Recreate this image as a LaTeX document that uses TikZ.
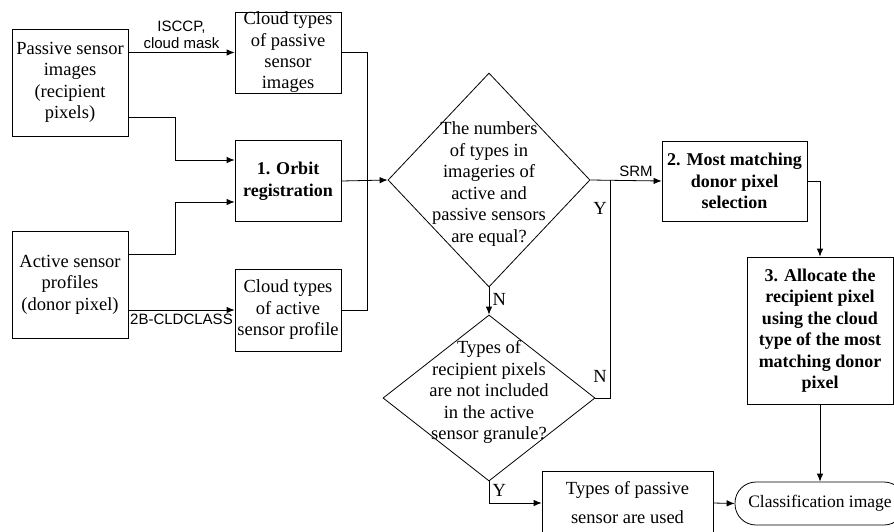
\documentclass[tikz,border=0pt]{standalone}
\usepackage{fontspec}
\setmainfont{Liberation Serif}
\newfontfamily\lblfont{Liberation Sans}
\usetikzlibrary{arrows.meta,calc,shapes.geometric}

\begin{document}
\begin{tikzpicture}[x=1pt,y=-1pt,>={Latex[length=8pt,width=6.5pt]},line width=0.8pt,
  font=\fontsize{18.5}{21.5}\selectfont,
  box/.style={draw,align=center,inner sep=0pt},
  boldbox/.style={box,font=\bfseries\fontsize{18}{21.5}\selectfont},
  decision/.style={draw,diamond,inner sep=0pt},
  flow/.style={->},
  lbl/.style={font=\lblfont\fontsize{15}{17}\selectfont,align=center}]
\useasboundingbox (0,0) rectangle (894,531);

% inputs
\node[box,minimum width=116pt,minimum height=107pt] (passive) at (70,82.5) {Passive sensor\\images\\(recipient\\pixels)};
\node[box,minimum width=116pt,minimum height=107pt] (active) at (70,284.5) {Active sensor\\profiles\\(donor pixel)};

% first column
\node[box,minimum width=106pt,minimum height=81pt,font=\fontsize{18.5}{21.3}\selectfont] (cloudp) at (288,52.5) {Cloud types\\of passive\\sensor\\images};
\node[boldbox,minimum width=106pt,minimum height=81pt] (orbit) at (288,181) {1. Orbit\\registration};
\node[box,minimum width=106pt,minimum height=82pt] (clouda) at (288,310) {Cloud types\\of active\\sensor profile};

% decisions
\node[decision,minimum width=202pt,minimum height=214pt] (dec1) at (489,180) {};
\node[align=center] (dec1txt) at ($(dec1)+(0,4)$) {The numbers\\of types in\\imageries of\\active and\\passive sensors\\are equal?};
\node[decision,minimum width=212pt,minimum height=166pt] (dec2) at (489,398) {};
\node[align=center] (dec2txt) at ($(dec2)+(0,-6)$) {Types of\\recipient pixels\\are not included\\in the active\\sensor granule?};

% right side
\node[boldbox,minimum width=145pt,minimum height=80pt] (select) at (734.5,181) {2. Most matching\\donor pixel\\selection};
\node[boldbox,minimum width=146pt,minimum height=147pt] (alloc) at (820,330.5) {3. Allocate the\\recipient pixel\\using the cloud\\type of the most\\matching donor\\pixel};
\node[box,minimum width=171pt,minimum height=64pt,font=\fontsize{18.5}{29}\selectfont] (usedp) at (627.5,503) {Types of passive\\sensor are used};
\node[draw,rounded corners=21pt,inner sep=0pt,minimum width=170pt,minimum height=43pt,font=\fontsize{17.5}{21}\selectfont] (result) at (820,503.5) {Classification image};

\draw[flow] (cloudp.west -| passive.east) -- node[lbl,above] {ISCCP,\\cloud mask} (cloudp.west);
\draw[flow] ($(passive.east)+(0,34.5)$) -- ++(47,0) |- ($(orbit.west)+(0,-21)$);
\draw[flow] ($(active.east)+(0,-30.5)$) -- ++(47,0) |- ($(orbit.west)+(0,21)$);
\draw[flow] (clouda.west -| active.east) -- node[lbl,below] {2B-CLDCLASS} (clouda.west);
\draw (cloudp.east) -- ++(26,0) |- (clouda.east);
\draw[flow] (orbit.east) -- (dec1.west);

\draw[flow] (dec1.south) -- node[right,pos=0.45] {N} (dec2.north);
\draw[flow] (dec1.east) -- node[lbl,above,pos=0.64] {SRM} (select.west);
\coordinate (yjoin) at ($(dec1.east)+(20,0)$);
\draw (dec2.east) -| node[left,pos=0.55] {N} node[left,pos=0.935] {Y} (yjoin);
\draw[flow] (select.east) -| (alloc.north);
\draw[flow] (alloc.south) -- (alloc.south |- result.north);
\draw[flow] (dec2.south) |- node[right,pos=0.2] {Y} (usedp.west);
\draw[flow] (usedp.east) -- (result.west);
\end{tikzpicture}
\end{document}
